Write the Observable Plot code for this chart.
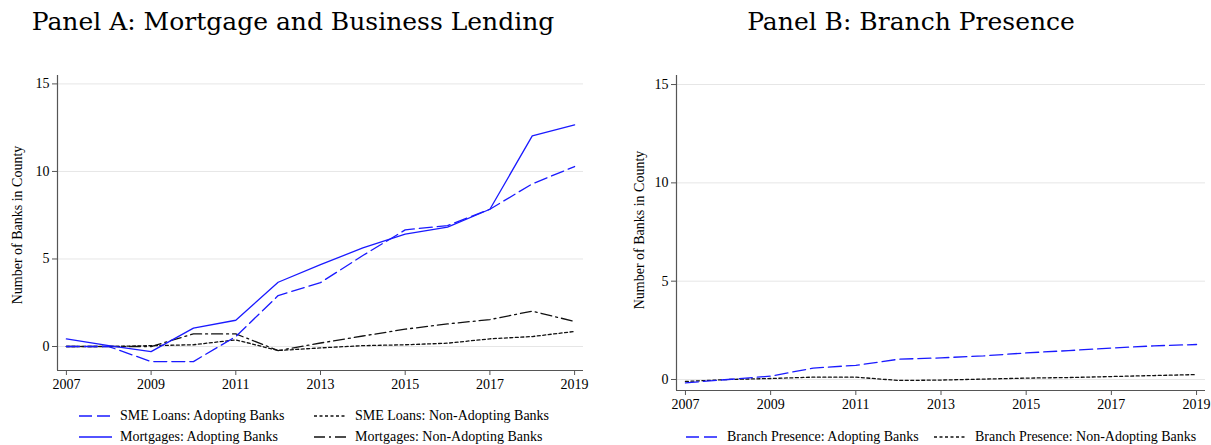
<!DOCTYPE html>
<html>
<head>
<meta charset="utf-8">
<script src="https://cdn.jsdelivr.net/npm/d3@7"></script>
<script src="https://cdn.jsdelivr.net/npm/@observablehq/plot@0.6"></script>
<style>
  html, body { margin: 0; padding: 0; background: #fff; }
  #root { position: relative; width: 1211px; height: 445px; overflow: hidden; font-family: "Liberation Serif", serif; color: #000; }
  .abs { position: absolute; }
  .title { font-family: "DejaVu Serif", "Liberation Serif", serif; font-size: 25px; white-space: nowrap; transform: translateX(-50%); }
  .ylab { font-size: 14px; white-space: nowrap; transform: translate(-50%, -50%) rotate(-90deg); }
  .leg { font-size: 14px; white-space: nowrap; line-height: 16px; }
</style>
</head>
<body>
<div id="root"></div>
<script>
// ---- data ----
const years = [2007, 2008, 2009, 2010, 2011, 2012, 2013, 2014, 2015, 2016, 2017, 2018, 2019];
const xTicks = [2007, 2009, 2011, 2013, 2015, 2017, 2019];
const yTicks = [0, 5, 10, 15];

const smeAdopting     = [0.00, 0.00, -0.86, -0.86, 0.57, 2.91, 3.65, 5.20, 6.66, 6.91, 7.84, 9.29, 10.28];
const mortAdopting    = [0.44, 0.05, -0.29, 1.05, 1.50, 3.67, 4.68, 5.63, 6.42, 6.82, 7.84, 12.03, 12.66];
const smeNonAdopting  = [0.00, 0.00, 0.05, 0.10, 0.38, -0.23, -0.08, 0.05, 0.10, 0.19, 0.44, 0.57, 0.86];
const mortNonAdopting = [0.00, 0.00, 0.00, 0.72, 0.72, -0.23, 0.20, 0.60, 0.99, 1.29, 1.54, 2.02, 1.43];

const branchAdopting    = [-0.17, 0.00, 0.17, 0.58, 0.72, 1.03, 1.10, 1.20, 1.35, 1.47, 1.60, 1.71, 1.78];
const branchNonAdopting = [-0.10, 0.00, 0.05, 0.12, 0.12, -0.05, -0.03, 0.02, 0.07, 0.10, 0.15, 0.20, 0.25];

const titleA = "Panel A: Mortgage and Business Lending";
const titleB = "Panel B: Branch Presence";
const yLabel = "Number of Banks in County";

// ---- styles ----
const BLUE = "#1a1aff";
const styles = {
  longDash: {stroke: BLUE, dash: "13,5"},
  solid: {stroke: BLUE, dash: null},
  shortDash: {stroke: "#111", dash: "3,2.5"},
  dashDot: {stroke: "#111", dash: "11,4,2,4"}
};

const root = document.getElementById("root");

function series(arr) { return years.map((y, i) => ({year: y, v: arr[i]})); }

function lineMark(arr, st) {
  const o = {x: "year", y: "v", stroke: st.stroke, strokeWidth: 1.3, curve: "linear"};
  if (st.dash) o.strokeDasharray = st.dash;
  return Plot.line(series(arr), o);
}

function panel(opts) {
  const xDom = [2006.79, 2019.21];
  const plot = Plot.plot({
    width: opts.width, height: opts.height,
    marginLeft: opts.ml, marginRight: opts.mr, marginTop: opts.mt, marginBottom: opts.mb,
    style: {fontFamily: "Liberation Serif", fontSize: "14px", color: "#000", background: "transparent", overflow: "visible"},
    x: {domain: xDom},
    y: {domain: opts.yDom},
    marks: [
      Plot.ruleY(yTicks, {stroke: "#e6e6e6", strokeWidth: 1}),
      ...opts.lines.map(([arr, st]) => lineMark(arr, st)),
      Plot.ruleX([xDom[0]], {stroke: "#555", strokeWidth: 1.2}),
      Plot.ruleY([opts.yDom[0]], {stroke: "#555", strokeWidth: 1.2}),
      Plot.axisY({ticks: yTicks, tickSize: 5, tickPadding: 3, label: null, stroke: "#555", fill: "#000", fontSize: 14}),
      Plot.axisX({ticks: xTicks, tickSize: 5, tickPadding: 4, tickFormat: d => String(d), label: null, stroke: "#555", fill: "#000", fontSize: 14})
    ]
  });
  plot.classList.add("abs");
  plot.style.left = opts.left + "px";
  plot.style.top = opts.top + "px";
  root.appendChild(plot);
}

function addText(cls, txt, x, y) {
  const d = document.createElement("div");
  d.className = "abs " + cls;
  d.textContent = txt;
  d.style.left = x + "px";
  d.style.top = y + "px";
  root.appendChild(d);
  return d;
}

function legendItem(x, y, st, label) {
  const svg = d3.create("svg").attr("class", "abs").attr("width", 34).attr("height", 6)
    .style("left", x + "px").style("top", (y - 3) + "px");
  const ln = svg.append("line").attr("x1", 0).attr("x2", 33).attr("y1", 3).attr("y2", 3)
    .attr("stroke", st.stroke).attr("stroke-width", 1.3);
  if (st.dash) ln.attr("stroke-dasharray", st.dash);
  root.appendChild(svg.node());
  const t = addText("leg", label, x + 41, y - 8);
}

// Titles
addText("title", titleA, 293, 7);
addText("title", titleB, 911, 7);

// Panel A
panel({
  left: 0, top: 60, width: 600, height: 345,
  ml: 57, mr: 17, mt: 15, mb: 35,
  yDom: [-1.37, 15.48],
  lines: [
    [smeNonAdopting, styles.shortDash],
    [mortNonAdopting, styles.dashDot],
    [smeAdopting, styles.longDash],
    [mortAdopting, styles.solid]
  ]
});
addText("ylab", yLabel, 18, 225);

// Panel B
panel({
  left: 610, top: 60, width: 601, height: 360,
  ml: 66, mr: 6, mt: 15, mb: 30,
  yDom: [-0.56, 15.46],
  lines: [
    [branchNonAdopting, styles.shortDash],
    [branchAdopting, styles.longDash]
  ]
});
addText("ylab", yLabel, 640, 230);

// Legends
legendItem(79, 416, styles.longDash, "SME Loans: Adopting Banks");
legendItem(314, 416, styles.shortDash, "SME Loans: Non-Adopting Banks");
legendItem(79, 437, styles.solid, "Mortgages: Adopting Banks");
legendItem(314, 437, styles.dashDot, "Mortgages: Non-Adopting Banks");

legendItem(686, 437, styles.longDash, "Branch Presence: Adopting Banks");
legendItem(934, 437, styles.shortDash, "Branch Presence: Non-Adopting Banks");
</script>
</body>
</html>
